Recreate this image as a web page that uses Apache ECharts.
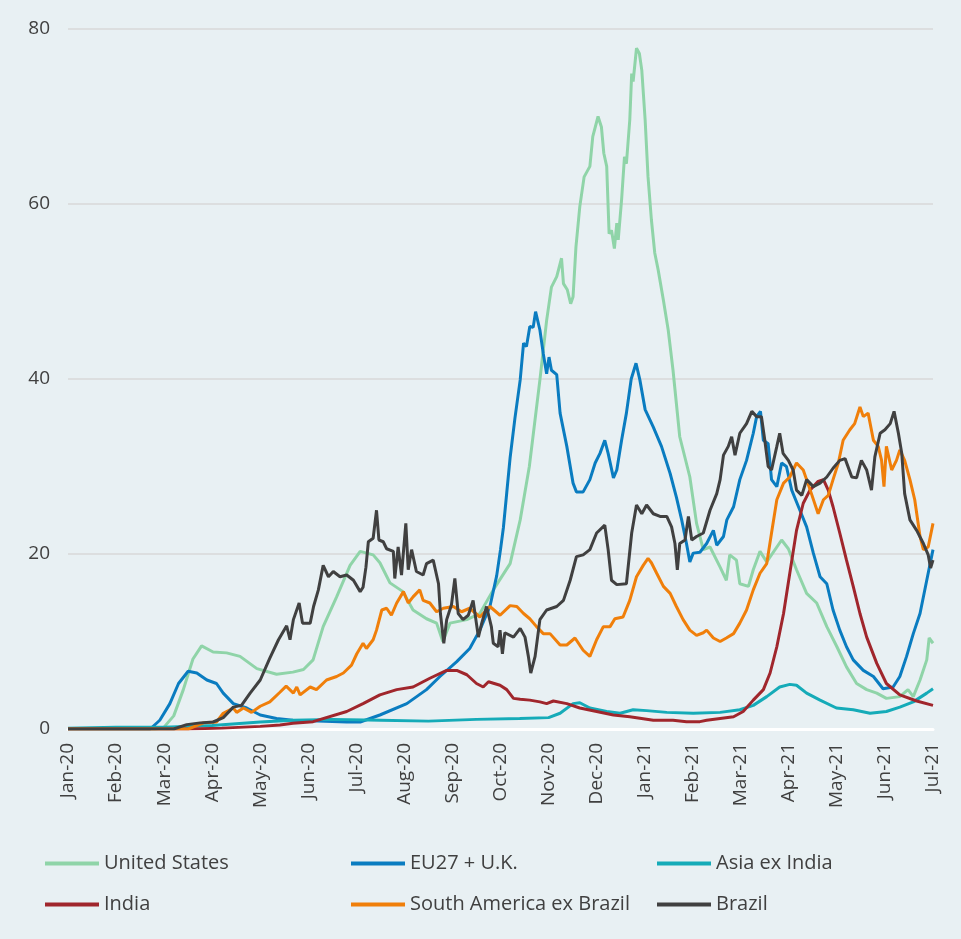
<!DOCTYPE html>
<html>
<head>
<meta charset="utf-8">
<script src="https://cdn.jsdelivr.net/npm/echarts@6/dist/echarts.min.js"></script>
<style>
  html, body { margin: 0; padding: 0; background: #e8f0f3; }
  #chart { width: 961px; height: 939px; }
</style>
</head>
<body>
<div id="chart"></div>
<script>
// x values are months since Jan-20
var monthLabels = ['Jan-20', 'Feb-20', 'Mar-20', 'Apr-20', 'May-20', 'Jun-20', 'Jul-20', 'Aug-20', 'Sep-20',
    'Oct-20', 'Nov-20', 'Dec-20', 'Jan-21', 'Feb-21', 'Mar-21', 'Apr-21', 'May-21', 'Jun-21', 'Jul-21'];

var seriesNames = ['United States', 'EU27 + U.K.', 'Asia ex India', 'India', 'South America ex Brazil', 'Brazil'];
var seriesColors = ['#8fd4a8', '#0a7cc0', '#15abb8', '#a0262c', '#f07f0a', '#404040'];

var usData = [[0,0],[1.8,0],[1.98,0.1],[2.2,1.5],[2.4,4.5],[2.6,8],[2.78,9.5],[3.02,8.8],[3.3,8.7],[3.58,8.3],
    [3.93,6.9],[4.34,6.25],[4.68,6.5],[4.9,6.8],[5.1,7.9],[5.31,11.7],[5.59,15.1],[5.87,18.7],[6.08,20.3],[6.35,19.9],
    [6.49,19.0],[6.70,16.7],[6.97,15.7],[7.18,13.6],[7.46,12.6],[7.67,12.1],[7.80,10.0],[7.95,12.1],[8.30,12.5],[8.57,13.2],
    [8.85,15.9],[9.20,18.9],[9.41,23.9],[9.6,30],[9.82,39.9],[9.96,46.7],[10.06,50.5],[10.17,51.7],[10.27,53.8],[10.31,50.9],
    [10.39,50.2],[10.46,48.6],[10.51,49.4],[10.57,55.1],[10.65,59.7],[10.74,63.1],[10.86,64.3],[10.92,67.7],[11.03,70.0],[11.10,68.8],
    [11.15,65.8],[11.21,64.3],[11.26,56.6],[11.31,57.0],[11.37,54.9],[11.42,57.8],[11.45,55.9],[11.52,60.5],[11.58,65.4],[11.62,64.6],
    [11.69,69.6],[11.73,74.9],[11.76,74.0],[11.83,77.8],[11.89,77.2],[11.94,75.3],[12.01,69.6],[12.07,63.1],[12.14,58.2],[12.21,54.4],
    [12.28,52.5],[12.39,49.0],[12.49,45.6],[12.59,41.0],[12.73,33.4],[12.94,28.8],[13.08,23.5],[13.22,20.5],[13.36,20.8],[13.57,18.5],
    [13.70,17.0],[13.77,19.9],[13.91,19.3],[13.98,16.6],[14.16,16.3],[14.26,18.2],[14.40,20.3],[14.54,19.1],[14.85,21.6],[14.99,20.6],
    [15.16,18.2],[15.37,15.5],[15.58,14.4],[15.79,11.7],[16.0,9.4],[16.2,7.1],[16.41,5.2],[16.62,4.5],[16.83,4.1],[17.03,3.5],
    [17.31,3.7],[17.48,4.5],[17.59,3.7],[17.73,5.6],[17.87,7.9],[17.92,10.4],[18.0,9.8]];

var euData = [[0,0],[1.71,0],[1.91,1.0],[2.12,2.9],[2.30,5.2],[2.50,6.6],[2.68,6.4],[2.89,5.6],[3.09,5.2],[3.23,4.1],
    [3.44,2.9],[3.72,2.4],[4.0,1.6],[4.34,1.2],[4.68,1.0],[5.2,0.9],[5.8,0.8],[6.08,0.8],[6.49,1.6],[7.05,2.9],
    [7.46,4.5],[7.74,6.0],[8.09,7.7],[8.36,9.2],[8.57,11.3],[8.78,14.0],[8.92,17.5],[9.0,20.5],[9.06,23],[9.13,27],
    [9.20,31],[9.30,35.5],[9.41,39.9],[9.48,44.1],[9.54,43.7],[9.61,46.0],[9.68,45.9],[9.73,47.7],[9.82,45.6],[9.89,42.9],
    [9.96,40.6],[10.01,42.5],[10.06,41.0],[10.17,40.5],[10.24,36.1],[10.38,32.3],[10.51,28.1],[10.58,27.1],[10.72,27.1],[10.86,28.5],
    [10.97,30.4],[11.07,31.5],[11.17,33.0],[11.24,31.5],[11.35,28.7],[11.42,29.6],[11.52,33.0],[11.62,36.1],[11.72,40],[11.82,41.8],
    [11.90,39.9],[12.01,36.5],[12.18,34.5],[12.35,32.3],[12.53,29.2],[12.66,26.5],[12.77,23.9],[12.87,21.2],[12.94,19.1],[13.01,20.1],
    [13.15,20.2],[13.29,21.2],[13.43,22.7],[13.50,21.0],[13.64,22.0],[13.71,23.9],[13.85,25.4],[13.98,28.5],[14.12,30.7],[14.26,33.8],
    [14.33,35.7],[14.41,36.3],[14.47,33.0],[14.57,32.6],[14.64,28.5],[14.75,27.7],[14.85,30.4],[14.95,30.0],[15.06,27.3],[15.23,25.0],
    [15.37,23.1],[15.51,20.1],[15.65,17.4],[15.79,16.6],[15.92,13.6],[16.06,11.3],[16.20,9.4],[16.34,7.9],[16.55,6.7],[16.76,6.0],
    [16.96,4.6],[17.17,4.8],[17.31,6.0],[17.45,8.3],[17.59,10.9],[17.73,13.2],[17.87,17.0],[18.0,20.5]];

var asiaData = [[0,0.1],[1.0,0.2],[2.0,0.2],[3.0,0.4],[4.0,0.8],[4.68,1.0],[5.5,1.1],[6.5,1.0],[7.5,0.9],[8.5,1.1],
    [9.4,1.2],[10.0,1.3],[10.24,1.8],[10.51,2.9],[10.65,3.0],[10.86,2.4],[11.21,2.0],[11.49,1.8],[11.76,2.2],[12.04,2.1],
    [12.46,1.9],[13.01,1.8],[13.57,1.9],[13.98,2.2],[14.26,2.7],[14.54,3.7],[14.81,4.8],[15.02,5.1],[15.16,5.0],[15.37,4.1],
    [15.65,3.3],[15.99,2.4],[16.34,2.2],[16.69,1.8],[17.03,2.0],[17.31,2.5],[17.59,3.1],[17.87,4.1],[18.0,4.6]];

var indiaData = [[0,0],[2.5,0],[3.2,0.1],[4.0,0.3],[4.41,0.45],[4.68,0.65],[5.10,0.84],[5.80,2.0],[6.14,2.9],[6.49,3.9],
    [6.84,4.5],[7.18,4.8],[7.53,5.8],[7.88,6.7],[8.09,6.7],[8.30,6.2],[8.50,5.2],[8.64,4.8],[8.75,5.4],[8.99,5.0],
    [9.13,4.5],[9.27,3.5],[9.41,3.4],[9.61,3.3],[9.82,3.1],[9.96,2.9],[10.10,3.2],[10.38,2.9],[10.65,2.4],[11.0,2.0],
    [11.35,1.6],[11.69,1.4],[12.18,1.0],[12.59,1.0],[12.87,0.84],[13.15,0.84],[13.29,1.0],[13.57,1.2],[13.85,1.4],[14.05,2.0],
    [14.26,3.3],[14.47,4.5],[14.61,6.4],[14.75,9.4],[14.89,13.2],[15.02,17.8],[15.16,22.7],[15.30,25.8],[15.44,27.3],[15.61,28.3],
    [15.72,28.5],[15.82,27.3],[15.92,25.4],[16.06,22.4],[16.20,19.3],[16.34,16.3],[16.48,13.2],[16.62,10.5],[16.83,7.5],[17.03,5.2],
    [17.31,3.9],[17.66,3.2],[18.0,2.7]];

var southAmericaData = [[0,0],[2.5,0],[2.82,0.7],[3.09,0.8],[3.23,1.8],[3.44,2.4],[3.51,1.9],[3.65,2.4],[3.82,1.9],[4.0,2.6],
    [4.20,3.1],[4.41,4.2],[4.54,4.9],[4.69,4.1],[4.76,4.8],[4.83,3.9],[5.04,4.8],[5.17,4.5],[5.38,5.6],[5.59,6.0],
    [5.73,6.4],[5.90,7.3],[6.01,8.6],[6.14,9.8],[6.21,9.2],[6.35,10.2],[6.42,11.3],[6.53,13.6],[6.63,13.8],[6.73,13.0],
    [6.84,14.4],[6.98,15.7],[7.08,14.4],[7.18,15.1],[7.32,15.9],[7.39,14.7],[7.53,14.4],[7.67,13.4],[7.81,13.8],[8.02,14.0],
    [8.19,13.4],[8.36,13.8],[8.57,12.8],[8.78,14.0],[8.99,13.0],[9.20,14.1],[9.34,14.0],[9.48,13.2],[9.61,12.6],[9.75,11.7],
    [9.89,10.9],[10.03,10.9],[10.24,9.6],[10.38,9.6],[10.55,10.4],[10.72,9.0],[10.86,8.3],[11.0,10.2],[11.14,11.7],[11.28,11.7],
    [11.38,12.6],[11.55,12.8],[11.69,14.7],[11.83,17.4],[11.97,18.7],[12.07,19.5],[12.14,19.0],[12.25,17.8],[12.39,16.3],[12.53,15.5],
    [12.66,14.0],[12.80,12.5],[12.94,11.3],[13.08,10.7],[13.22,11.0],[13.29,11.3],[13.43,10.4],[13.57,10.0],[13.70,10.4],[13.85,10.9],
    [13.98,12.1],[14.12,13.6],[14.26,15.9],[14.40,17.8],[14.54,18.9],[14.64,22.4],[14.75,26.2],[14.89,28.1],[15.02,28.8],[15.16,30.4],
    [15.30,29.6],[15.37,28.5],[15.47,26.9],[15.61,24.6],[15.72,26.2],[15.82,26.7],[15.92,28.5],[16.03,30.4],[16.13,33.0],[16.27,34.2],
    [16.37,34.9],[16.48,36.8],[16.55,35.7],[16.65,36.1],[16.76,33.0],[16.86,32.3],[16.93,30.7],[16.98,27.7],[17.03,32.3],[17.14,29.6],
    [17.24,30.7],[17.31,31.9],[17.41,30.7],[17.52,28.5],[17.62,26.2],[17.73,22.0],[17.80,20.5],[17.90,20.8],[18.0,23.5]];

var brazilData = [[0,0],[2.2,0],[2.47,0.5],[2.75,0.7],[3.02,0.8],[3.23,1.3],[3.44,2.5],[3.61,2.7],[3.79,4.1],[4.0,5.6],
    [4.20,8.1],[4.38,10.2],[4.55,11.8],[4.62,10.2],[4.69,12.5],[4.81,14.4],[4.88,12.1],[5.04,12.1],[5.11,14.0],[5.21,15.9],
    [5.31,18.7],[5.42,17.4],[5.52,18.0],[5.66,17.4],[5.80,17.6],[5.94,17.0],[6.08,15.7],[6.14,16.2],[6.20,18.5],[6.25,21.4],
    [6.35,21.8],[6.42,25.0],[6.47,21.6],[6.56,21.4],[6.63,20.6],[6.77,20.3],[6.80,17.2],[6.87,20.8],[6.94,17.6],[7.03,23.5],
    [7.08,18.2],[7.15,20.5],[7.25,18.0],[7.39,17.6],[7.46,18.9],[7.60,19.3],[7.71,16.6],[7.75,13.2],[7.82,9.8],[7.88,12.5],
    [7.98,14.2],[8.05,17.2],[8.12,13.2],[8.22,12.5],[8.33,13.0],[8.43,14.7],[8.54,10.5],[8.61,12.1],[8.71,14.0],[8.81,11.7],
    [8.85,9.8],[8.95,9.4],[8.99,11.3],[9.04,8.6],[9.09,11.0],[9.27,10.5],[9.41,11.5],[9.51,10.5],[9.58,8.3],[9.63,6.4],
    [9.72,8.3],[9.82,12.5],[9.96,13.6],[10.17,14.0],[10.31,14.7],[10.45,17.0],[10.58,19.7],[10.72,19.9],[10.86,20.5],[11.0,22.4],
    [11.17,23.3],[11.24,20.5],[11.31,17.0],[11.42,16.5],[11.62,16.6],[11.73,22.4],[11.83,25.6],[11.94,24.6],[12.04,25.6],[12.18,24.6],
    [12.32,24.3],[12.46,24.3],[12.56,23.1],[12.63,21.2],[12.68,18.2],[12.73,21.2],[12.84,21.6],[12.91,24.3],[12.98,21.6],[13.08,22.0],
    [13.22,22.4],[13.36,25.0],[13.50,26.9],[13.57,28.5],[13.64,31.3],[13.74,32.3],[13.81,33.4],[13.88,31.3],[13.98,33.8],[14.12,34.9],
    [14.23,36.3],[14.33,35.7],[14.43,35.7],[14.50,33.0],[14.57,30.0],[14.64,29.6],[14.75,32.3],[14.81,33.8],[14.88,31.5],[14.99,30.7],
    [15.09,29.6],[15.16,27.3],[15.27,26.7],[15.37,28.5],[15.51,27.7],[15.65,28.1],[15.79,28.8],[15.92,29.8],[16.06,30.7],[16.17,30.9],
    [16.31,28.8],[16.41,28.7],[16.51,30.7],[16.62,29.6],[16.72,27.3],[16.79,31.1],[16.90,33.8],[17.0,34.2],[17.11,34.9],[17.19,36.3],
    [17.28,33.8],[17.35,31.5],[17.41,26.9],[17.52,23.9],[17.66,22.7],[17.80,21.2],[17.90,19.9],[17.95,18.4],[18.0,19.3]];

var allData = [usData, euData, asiaData, indiaData, southAmericaData, brazilData];

var fontFamily = '"Open Sans", sans-serif';
var textColor = '#404040';

function makeLegend(left, names) {
    return {
        orient: 'vertical',
        left: left,
        top: 847,
        itemWidth: 54,
        itemHeight: 4,
        itemGap: 18,
        icon: 'rect',
        data: names,
        textStyle: {
            fontFamily: fontFamily,
            fontSize: 20,
            lineHeight: 23,
            color: textColor
        }
    };
}

var series = [];
for (var i = 0; i < seriesNames.length; i++) {
    series.push({
        name: seriesNames[i],
        type: 'line',
        data: allData[i],
        showSymbol: false,
        symbol: 'none',
        lineStyle: {width: 3, color: seriesColors[i]},
        itemStyle: {color: seriesColors[i]}
    });
}

var option = {
    backgroundColor: '#e8f0f3',
    animation: false,
    grid: {
        left: 68,
        right: 28,
        top: 29,
        bottom: 210
    },
    legend: [
        makeLegend(40, ['United States', 'India']),
        makeLegend(346, ['EU27 + U.K.', 'South America ex Brazil']),
        makeLegend(652, ['Asia ex India', 'Brazil'])
    ],
    xAxis: {
        type: 'value',
        min: 0,
        max: 18,
        interval: 1,
        axisLine: {show: true, lineStyle: {color: '#ffffff', width: 3}},
        axisTick: {show: false},
        splitLine: {show: false},
        axisLabel: {
            rotate: 90,
            margin: 14,
            fontFamily: fontFamily,
            fontSize: 19,
            color: textColor,
            formatter: function (v) {
                return monthLabels[Math.round(v)];
            }
        }
    },
    yAxis: {
        type: 'value',
        min: 0,
        max: 80,
        interval: 20,
        axisLine: {show: false},
        axisTick: {show: false},
        splitLine: {lineStyle: {color: '#d9d9d9', width: 1.5}},
        axisLabel: {
            margin: 18,
            fontFamily: fontFamily,
            fontSize: 19,
            color: textColor
        }
    },
    series: series
};

var chart = echarts.init(document.getElementById('chart'));
chart.setOption(option);
</script>
</body>
</html>
